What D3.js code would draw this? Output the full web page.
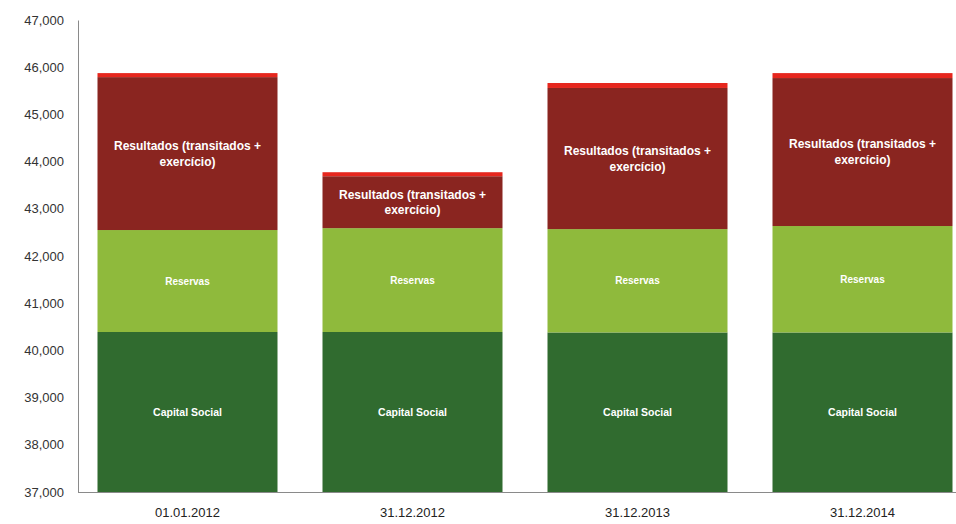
<!DOCTYPE html>
<html>
<head>
<meta charset="utf-8">
<script src="https://cdn.jsdelivr.net/npm/d3@7"></script>
<style>
  html, body { margin: 0; padding: 0; background: #ffffff; }
  svg { display: block; font-family: Arial, "Liberation Sans", sans-serif; }
</style>
</head>
<body>
<svg id="chart" width="956" height="524"></svg>
<script>
// ---- data ----
const categories = ["01.01.2012", "31.12.2012", "31.12.2013", "31.12.2014"];
const capitalSocial = [40390, 40390, 40380, 40380];
const reservas = [2160, 2200, 2190, 2255];
const resultados = [3240, 1100, 2990, 3135];
const outros = [85, 85, 105, 105];
const seriesNames = ["Capital Social", "Reservas", "Resultados (transitados + exercício)", "Outros"];
const yTicks = [37000, 38000, 39000, 40000, 41000, 42000, 43000, 44000, 45000, 46000, 47000];

const colors = ["#306b2f", "#8fba3c", "#8a2520", "#e6261d"];

const svg = d3.select("#chart");
const W = 956, H = 524;
const yTop = 20, yBottom = 492, xAxis = 78;
const yMin = 37000, yMax = 47000;

const rows = categories.map((c, i) => ({
  cat: c,
  s0: capitalSocial[i], s1: reservas[i], s2: resultados[i], s3: outros[i]
}));

const x = d3.scaleBand().domain(categories).range([75, 975]).paddingInner(0.2).paddingOuter(0.1);
const y = d3.scaleLinear().domain([yMin, yMax]).range([yBottom, yTop]);

const stack = d3.stack().keys(["s0", "s1", "s2", "s3"]);
const stacked = stack(rows);
const lo = d => Math.max(d[0], yMin);

// bars
const g = svg.append("g");
stacked.forEach((layer, li) => {
  g.selectAll(null).data(layer).enter().append("rect")
    .attr("x", d => x(d.data.cat))
    .attr("width", x.bandwidth())
    .attr("y", d => y(d[1]))
    .attr("height", d => y(lo(d)) - y(d[1]))
    .attr("fill", colors[li]);
});

// segment labels
const labelLayers = [
  { idx: 0, lines: ["Capital Social"], size: 10.5 },
  { idx: 1, lines: ["Reservas"], size: 10 },
  { idx: 2, lines: ["Resultados (transitados +", "exercício)"], size: 12 }
];
labelLayers.forEach(L => {
  stacked[L.idx].forEach(d => {
    const cx = x(d.data.cat) + x.bandwidth() / 2;
    const cy = (y(lo(d)) + y(d[1])) / 2;
    const lh = L.size * 1.3;
    const t = svg.append("text")
      .attr("x", cx)
      .attr("text-anchor", "middle")
      .attr("fill", "#ffffff")
      .attr("font-weight", "bold")
      .attr("font-size", L.size + "px");
    L.lines.forEach((ln, k) => {
      t.append("tspan")
        .attr("x", cx)
        .attr("y", cy + (k - (L.lines.length - 1) / 2) * lh)
        .attr("dy", "0.35em")
        .text(ln);
    });
  });
});

// axes
const yAxis = d3.axisLeft(y).tickValues(yTicks).tickSize(0).tickPadding(14)
  .tickFormat(d3.format(","));
const ya = svg.append("g").attr("transform", `translate(${xAxis},0)`).call(yAxis);
ya.select(".domain").attr("stroke", "#8a8a8a").attr("stroke-width", 1);
ya.selectAll("text").attr("font-size", "13px").attr("fill", "#333333")
  .attr("font-family", "Arial, 'Liberation Sans', sans-serif");

const xAx = d3.axisBottom(x).tickSize(0).tickPadding(16);
const xa = svg.append("g").attr("transform", `translate(0,${yBottom})`).call(xAx);
xa.select(".domain").remove();
xa.selectAll("text").attr("font-size", "13px").attr("fill", "#222222")
  .attr("font-family", "Arial, 'Liberation Sans', sans-serif");
svg.append("line")
  .attr("x1", xAxis).attr("x2", W)
  .attr("y1", yBottom + 0.5).attr("y2", yBottom + 0.5)
  .attr("stroke", "#8a8a8a").attr("stroke-width", 1);
</script>
</body>
</html>
